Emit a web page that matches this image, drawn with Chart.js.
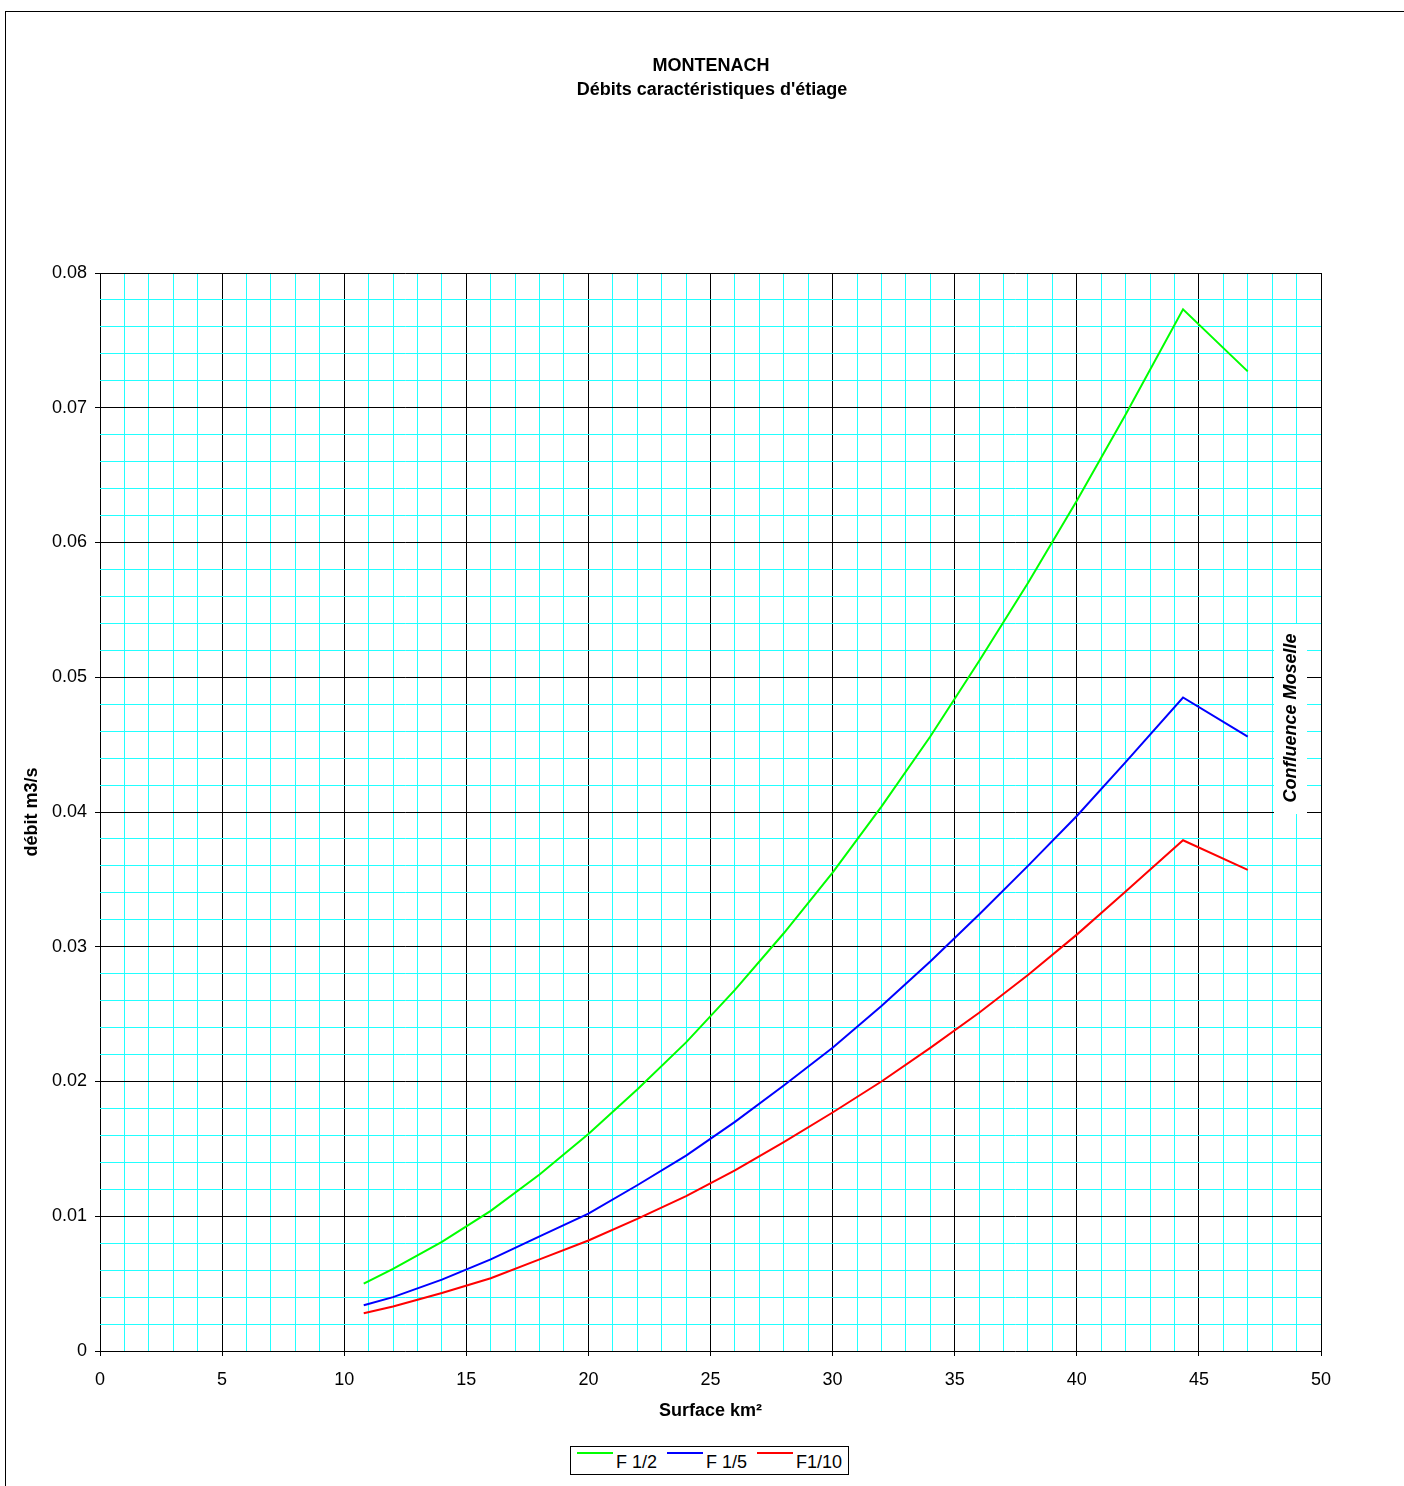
<!DOCTYPE html>
<html>
<head>
<meta charset="utf-8">
<script src="https://cdn.jsdelivr.net/npm/chart.js@4/dist/chart.umd.min.js"></script>
<style>
  html, body { margin: 0; padding: 0; background: #fff; overflow: hidden; }
  #frame { position: absolute; left: 5px; top: 11px; width: 1420px; height: 1500px; border: 1px solid #000; }
  #wrap { position: absolute; left: 0; top: 0; width: 1404px; height: 1486px; }
  #legend { position: absolute; left: 570px; top: 1446px; width: 277px; height: 27px; border: 1px solid #000;
            background: #fff; font: 18px "Liberation Sans", Arial, sans-serif; color: #000; }
  .item { position: absolute; top: 0; height: 27px; }
  .item .ln { position: absolute; left: 6px; top: 5px; width: 36px; height: 2px; }
  .item .tx { position: absolute; left: 45px; top: 5px; white-space: nowrap; }
</style>
</head>
<body>
<div id="frame"></div>
<div id="wrap"><canvas id="chart" width="1404" height="1486"></canvas></div>
<div id="legend"></div>
<script>
// surface (km²) of each point
const surface = [10.8, 12, 14, 16, 18, 20, 22, 24, 26, 28, 30, 32, 34, 36, 38, 40, 42, 44.35, 47]

// débits (m3/s)
const f2 = [0.0050, 0.0061, 0.0081, 0.0104, 0.0131, 0.0161, 0.0194, 0.0229, 0.0268, 0.0310,
            0.0355, 0.0404, 0.0456, 0.0512, 0.0570, 0.0631, 0.0695, 0.0773, 0.0727]
const f5 = [0.0034, 0.0040, 0.0053, 0.0068, 0.0085, 0.0102, 0.0123, 0.0145, 0.0170, 0.0197,
            0.0225, 0.0256, 0.0289, 0.0324, 0.0360, 0.0397, 0.0437, 0.0485, 0.0456]
const f10 = [0.0028, 0.0033, 0.0043, 0.0054, 0.0068, 0.0082, 0.0098, 0.0115, 0.0134, 0.0155,
             0.0177, 0.0200, 0.0225, 0.0251, 0.0279, 0.0309, 0.0341, 0.0379, 0.0357]

const seriesLabels = ['F 1/2', 'F 1/5', 'F1/10']
const seriesColors = ['#00ff00', '#0000ff', '#ff0000']
const seriesValues = [f2, f5, f10]

const titleLines = ['MONTENACH', "Débits caractéristiques d'étiage"]
const xTitle = 'Surface km²'
const yTitle = 'débit m3/s'
const noteText = 'Confluence Moselle'

const FONT = '"Liberation Sans", Arial, sans-serif'
Chart.defaults.font.family = FONT
Chart.defaults.font.size = 18
Chart.defaults.color = '#000'

const isMajor = (v, step) => Math.abs(v / step - Math.round(v / step)) < 1e-6

let datasets = []
for (let i = 0; i < seriesValues.length; i++) {
    datasets.push({
        label: seriesLabels[i],
        data: surface.map((x, j) => ({ x: x, y: seriesValues[i][j] })),
        borderColor: seriesColors[i],
        backgroundColor: seriesColors[i],
        borderWidth: 2,
        showLine: true,
        pointRadius: 0,
        tension: 0
    })
}

// titles and the rotated note
const textPlugin = {
    id: 'texts',
    afterDraw(chart) {
        const ctx = chart.ctx
        ctx.save()
        ctx.fillStyle = '#000'
        ctx.textAlign = 'center'
        ctx.textBaseline = 'middle'
        ctx.font = 'bold 18px ' + FONT
        ctx.fillText(titleLines[0], 711, 66)
        ctx.fillText(titleLines[1], 712, 90)

        ctx.fillStyle = '#fff'
        ctx.fillRect(1274, 624, 33, 190)
        ctx.translate(1290, 718)
        ctx.rotate(-Math.PI / 2)
        ctx.fillStyle = '#000'
        ctx.font = 'italic bold 18px ' + FONT
        ctx.fillText(noteText, 0, 1)
        ctx.restore()
    }
}

const config = {
    type: 'scatter',
    data: { datasets: datasets },
    options: {
        responsive: false,
        animation: false,
        layout: { padding: { top: 273, right: 83, left: 0, bottom: 60 } },
        plugins: {
            legend: { display: false },
            tooltip: { enabled: false }
        },
        scales: {
            x: {
                type: 'linear',
                min: 0, max: 50,
                afterFit: (s) => { s.height = 75 },
                ticks: {
                    stepSize: 1,
                    autoSkip: false,
                    maxRotation: 0,
                    padding: 13,
                    callback: (v) => isMajor(v, 5) ? String(v) : ''
                },
                grid: {
                    color: (c) => isMajor(c.tick.value, 5) ? '#000' : '#22ffff',
                    tickColor: (c) => isMajor(c.tick.value, 5) ? '#000' : 'rgba(0,0,0,0)',
                    tickLength: 5,
                    lineWidth: 1
                },
                border: { display: false },
                title: { display: true, text: xTitle, font: { weight: 'bold', size: 18 }, padding: { top: 6, bottom: 4 } }
            },
            y: {
                type: 'linear',
                min: 0, max: 0.08,
                afterFit: (s) => { s.width = 100 },
                ticks: {
                    stepSize: 0.002,
                    autoSkip: false,
                    padding: 8,
                    callback: (v) => isMajor(v, 0.01) ? String(Math.round(v * 100) / 100) : ''
                },
                grid: {
                    color: (c) => isMajor(c.tick.value, 0.01) ? '#000' : '#22ffff',
                    tickColor: (c) => isMajor(c.tick.value, 0.01) ? '#000' : 'rgba(0,0,0,0)',
                    tickLength: 5,
                    lineWidth: 1
                },
                border: { display: false },
                title: { display: true, text: yTitle, font: { weight: 'bold', size: 18 }, padding: { top: 21 } }
            }
        }
    },
    plugins: [textPlugin]
}

let ctx = document.querySelector('#chart').getContext('2d')
const myChart = new Chart(ctx, config)

// legend in the style of the original
const legend = document.querySelector('#legend')
const itemLeft = [0, 90, 180]
for (let i = 0; i < seriesLabels.length; i++) {
    let item = document.createElement('div')
    item.className = 'item'
    item.style.left = itemLeft[i] + 'px'
    item.innerHTML = '<div class="ln" style="background:' + seriesColors[i] + '"></div><span class="tx">' + seriesLabels[i] + '</span>'
    legend.appendChild(item)
}
</script>
</body>
</html>
